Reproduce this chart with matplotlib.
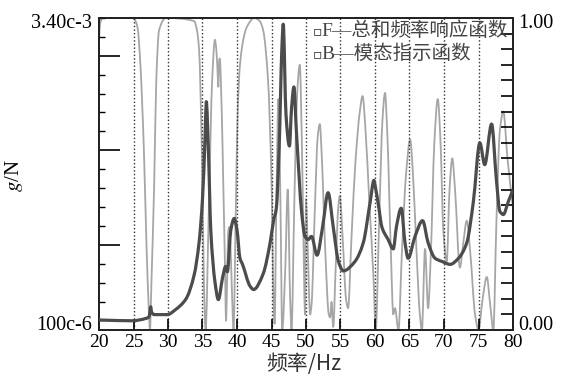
import numpy as np
import matplotlib
matplotlib.use("Agg")
import matplotlib.pyplot as plt
from matplotlib.path import Path
from matplotlib.patches import PathPatch
from matplotlib.transforms import IdentityTransform

plt.rcParams['mathtext.fontset'] = 'stix'

# ---------------- data ----------------
# F: summed frequency response function (g/N, log axis)
frf_freq = [20.0, 24.8, 26.8, 27.25, 27.5, 27.6, 28.0, 29.9, 31.1, 32.6, 33.8, 34.5, 35.0,
            35.4, 35.55, 35.85, 36.2, 36.8, 37.3, 37.9, 38.35, 38.6, 39.1, 39.6, 40.0,
            40.43, 40.8, 41.9, 42.4, 43.8, 44.8, 45.3, 45.7, 46.1, 46.5, 46.7, 47.1, 47.6,
            47.9, 48.25, 48.6, 49.4, 49.85, 50.3, 50.8, 51.6, 52.4, 53.2, 53.95, 54.7,
            55.4, 57.1, 58.3, 59.3, 59.85, 60.0, 60.5, 61.0, 61.9, 62.65, 63.1, 63.8,
            64.35, 64.8, 65.8, 66.9, 67.7, 68.7, 69.7, 70.9, 72.1, 73.3, 74.25, 75.2,
            75.9, 76.9, 77.6, 78.1, 78.6, 79.3, 80.0]
frf_e4 = [1.12, 1.11, 1.14, 1.16, 1.30, 1.23, 1.19, 1.19, 1.26, 1.42, 1.87, 2.68, 4.40,
          9.38, 13.2, 7.73, 3.09, 1.73, 1.41, 1.80, 2.05, 1.93, 3.09, 3.53, 3.09,
          2.25, 2.10, 1.64, 1.58, 1.89, 2.68, 3.44, 3.96, 7.73, 23.9, 31.7, 11.4, 8.0,
          12.2, 15.6, 9.55, 3.69, 2.88, 2.78, 2.88, 2.33, 3.20, 4.72, 3.20, 2.17,
          1.95, 2.17, 2.68, 4.25, 5.43, 5.15, 4.10, 3.20, 2.78, 2.50, 3.20, 3.96,
          2.68, 2.25, 2.88, 3.44, 2.68, 2.25, 2.17, 2.10, 2.25, 2.68, 4.25, 8.29,
          6.48, 10.25, 5.43, 3.82, 3.69, 4.25, 4.89]
frf_val = np.array(frf_e4) * 1e-4

# B: mode indicator function (0..1, right axis)
mif_freq = [20.0, 20.15, 20.5, 24.8, 25.3, 25.6, 26.0, 26.5, 26.9, 27.25, 27.38, 27.6, 28.0,
            28.3, 28.7, 29.7, 33.8, 34.2, 34.5, 34.9, 35.2, 35.45, 35.9, 36.4, 36.8, 37.0,
            37.2, 37.3, 37.4, 37.5, 37.8, 38.0, 38.3, 38.4, 38.75, 38.9, 39.0, 39.3, 39.5,
            39.8, 40.1, 40.43, 41.0, 41.4, 42.5, 43.3, 43.8, 44.5, 45.0, 45.3, 45.45,
            45.7, 46.0, 46.3, 46.55, 47.0, 47.35, 47.7, 47.9, 48.3, 48.7, 49.1, 49.4,
            49.7, 49.85, 50.0, 50.2, 50.6, 50.8, 51.3, 51.7, 52.0, 52.3, 52.8, 53.3,
            53.5, 53.7, 53.95, 54.3, 54.7, 54.9, 55.3, 55.8, 56.1, 56.6, 57.2, 57.8,
            58.2, 58.6, 59.2, 59.8, 60.1, 60.6, 61.1, 61.45, 61.8, 62.3, 62.65, 62.9,
            63.4, 63.9, 64.5, 65.1, 65.5, 66.0, 66.5, 66.8, 67.25, 67.7, 68.1, 68.6,
            69.1, 69.5, 69.9, 70.4, 70.8, 71.2, 71.6, 72.3, 72.8, 73.3, 73.8, 74.5,
            75.0, 75.6, 76.2, 76.7, 77.15, 77.6, 78.1, 78.6, 79.2, 80.0]
mif_val = [0.93, 0.98, 1.0, 1.0, 0.99, 0.967, 0.85, 0.58, 0.26, 0.05, 0.0, 0.155, 0.47,
           0.80, 0.96, 1.0, 0.99, 0.96, 0.90, 0.58, 0.155, 0.0, 0.37, 0.80, 0.93, 0.90,
           0.82, 0.78, 0.86, 0.87, 0.69, 0.48, 0.155, 0.03, 0.32, 0.33, 0.30, 0.10, 0.0,
           0.35, 0.70, 0.85, 0.94, 0.97, 1.0, 0.99, 0.96, 0.80, 0.48, 0.10, 0.02,
           0.40, 0.74, 0.40, 0.0, 0.20, 0.45, 0.10, 0.0, 0.40, 0.75, 0.85, 0.60,
           0.20, 0.05, 0.42, 0.30, 0.05, 0.08, 0.40, 0.62, 0.66, 0.55, 0.25, 0.05,
           0.04, 0.09, 0.01, 0.20, 0.40, 0.43, 0.30, 0.10, 0.07, 0.30, 0.55, 0.70,
           0.75, 0.65, 0.40, 0.16, 0.0, 0.35, 0.68, 0.76, 0.62, 0.25, 0.05, 0.07,
           0.0, 0.25, 0.50, 0.61, 0.50, 0.26, 0.05, 0.0, 0.26, 0.07, 0.25, 0.60,
           0.74, 0.60, 0.32, 0.22, 0.45, 0.55, 0.45, 0.20, 0.28, 0.35, 0.25, 0.05,
           0.0, 0.10, 0.17, 0.08, 0.0, 0.35, 0.64, 0.70, 0.55, 0.39]

x_ticks = [20, 25, 30, 35, 40, 45, 50, 55, 60, 65, 70, 75, 80]
grid_x = [25, 30, 35, 40, 45, 50, 55, 60, 65, 70, 75]
legend_lines = ["F—总和频率响应函数", "B—模态指示函数"]
left_top_label, left_bottom_label = "3.40c-3", "100c-6"
right_top_label, right_bottom_label = "1.00", "0.00"


def smooth_line(axis, xs, ys, **kw):
    """Draw a monotone cubic (PCHIP-style) curve through the points in display space."""
    p = axis.transData.transform(np.column_stack([xs, ys]))
    x, y = p[:, 0], p[:, 1]
    h = np.diff(x)
    d = np.diff(y) / h
    n = len(x)
    m = np.zeros(n)
    for i in range(1, n - 1):
        if d[i - 1] * d[i] <= 0:
            m[i] = 0.0
        else:
            w1 = 2 * h[i] + h[i - 1]
            w2 = h[i] + 2 * h[i - 1]
            m[i] = (w1 + w2) / (w1 / d[i - 1] + w2 / d[i])
    m[0], m[-1] = d[0], d[-1]
    verts = [(x[0], y[0])]
    codes = [Path.MOVETO]
    for i in range(n - 1):
        verts += [(x[i] + h[i] / 3, y[i] + m[i] * h[i] / 3),
                  (x[i + 1] - h[i] / 3, y[i + 1] - m[i + 1] * h[i] / 3),
                  (x[i + 1], y[i + 1])]
        codes += [Path.CURVE4] * 3
    patch = PathPatch(Path(verts, codes), transform=IdentityTransform(), fill=False, **kw)
    patch.set_clip_box(axis.bbox)
    axis.add_artist(patch)


# ---------------- figure ----------------
W, H = 564, 385
fig = plt.figure(figsize=(W / 100, H / 100), dpi=100)
L, R, T, B = 99, 513, 18, 330
ax = fig.add_axes([L / W, 1 - B / H, (R - L) / W, (B - T) / H])
ax2 = ax.twinx()
ax.set_zorder(ax2.get_zorder() + 1)
ax.patch.set_visible(False)

serif = ['Liberation Serif', 'DejaVu Serif']

ax.set_yscale('log')
ax.set_ylim(1e-4, 3.4e-3)
ax.set_xlim(20, 80)
ax2.set_ylim(0, 1)
ax2.set_xlim(20, 80)

smooth_line(ax2, mif_freq, mif_val, edgecolor='#a6a6a6', lw=1.3, joinstyle='round')
smooth_line(ax, frf_freq, frf_val, edgecolor='#4c4c4c', lw=2.3, joinstyle='round', zorder=3)

for gx in grid_x:
    ax.axvline(gx, color='#303030', lw=1.0, ls=(0, (1, 1.6)), zorder=1)

# x ticks
ax.set_xticks(x_ticks)
ax.set_xticklabels([str(v) for v in x_ticks], fontfamily=serif, fontsize=14)
ax.tick_params(axis='x', direction='in', length=8, width=1.2, pad=3, top=False)

# left ticks: evenly spaced along the axis
span = np.log10(3.4e-3 / 1e-4)
fr = 1 - np.arange(0, 17) * 18.9 / 312
vals = 1e-4 * 10 ** (fr * span)
major_idx = [2, 7, 12]
ax.yaxis.set_major_locator(matplotlib.ticker.FixedLocator(vals[major_idx]))
ax.yaxis.set_minor_locator(matplotlib.ticker.FixedLocator(np.delete(vals, major_idx)))
ax.yaxis.set_major_formatter(matplotlib.ticker.NullFormatter())
ax.yaxis.set_minor_formatter(matplotlib.ticker.NullFormatter())
ax.tick_params(axis='y', which='major', direction='in', length=15, width=1.2, right=False)
ax.tick_params(axis='y', which='minor', direction='in', length=4, width=1.0, right=False)

ax.text(-0.017, 1 - 6 / 312, left_top_label, transform=ax.transAxes, ha='right', va='center',
        fontfamily=serif, fontsize=14.5)
ax.text(-0.017, 4 / 312, left_bottom_label, transform=ax.transAxes, ha='right', va='center',
        fontfamily=serif, fontsize=14.5)

# right ticks
rt = np.round(np.arange(0, 1.0001, 0.05), 2)
ax2.set_yticks(rt)
ax2.set_yticklabels([])
ax2.tick_params(axis='y', direction='in', length=9, width=1.2)
ax2.text(1.012, 1 - 6 / 312, right_top_label, transform=ax2.transAxes, ha='left', va='center',
         fontfamily=serif, fontsize=14.5)
ax2.text(1.012, 4 / 312, right_bottom_label, transform=ax2.transAxes, ha='left', va='center',
         fontfamily=serif, fontsize=14.5)

for sp in list(ax.spines.values()) + list(ax2.spines.values()):
    sp.set_linewidth(1.3)
    sp.set_color('#222222')

# axis labels
fig.text(14 / W, 1 - 176 / H, r'$g$/N', rotation=90, ha='center', va='center',
         fontfamily=serif, fontsize=15)
fig.text(304 / W, 1 - 364 / H, '频率/Hz', ha='center', va='center',
         fontfamily=['Noto Sans CJK SC', 'Liberation Serif'], fontsize=15, color='#333333')

# legend text
for i, t in enumerate(legend_lines):
    y = 1 - (31 + 23 * i) / H
    fig.text(313 / W, y, '▫', ha='left', va='center', fontfamily=['DejaVu Sans'],
             fontsize=10, color='#333333')
    fig.text(321 / W, y, t, ha='left', va='center',
             fontfamily=['Liberation Serif', 'Noto Sans CJK SC', 'DejaVu Sans'],
             fontsize=14, color='#444444')

fig.savefig('out.png', dpi=100)
